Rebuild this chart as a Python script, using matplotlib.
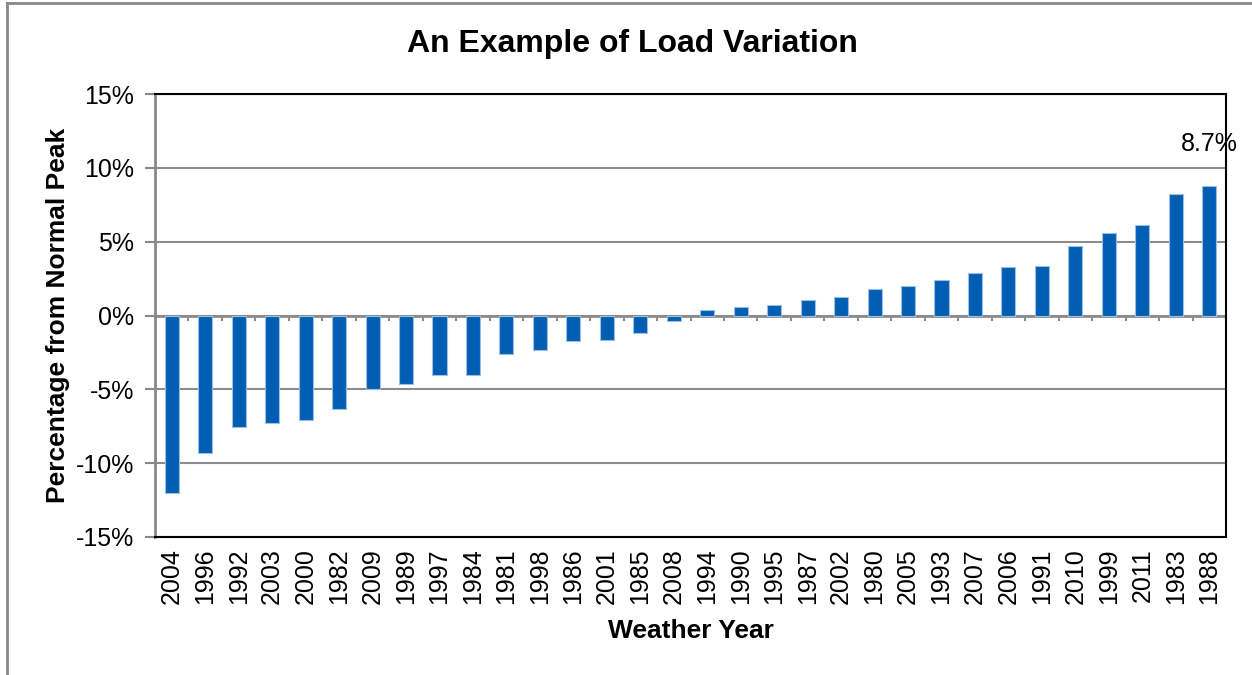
import numpy as np
import matplotlib.pyplot as plt
from matplotlib.lines import Line2D
from matplotlib.ticker import FuncFormatter

plt.rcParams["font.family"] = ["Liberation Sans", "DejaVu Sans"]

# ── data ──────────────────────────────────────────────────────────────
years = ["2004", "1996", "1992", "2003", "2000", "1982", "2009", "1989",
         "1997", "1984", "1981", "1998", "1986", "2001", "1985", "2008",
         "1994", "1990", "1995", "1987", "2002", "1980", "2005", "1993",
         "2007", "2006", "1991", "2010", "1999", "2011", "1983", "1988"]
pct = [-12.0, -9.3, -7.55, -7.3, -7.05, -6.3, -5.0, -4.65,
       -4.05, -4.0, -2.6, -2.35, -1.75, -1.65, -1.2, -0.35,
       0.35, 0.55, 0.7, 1.07, 1.27, 1.8, 2.0, 2.4,
       2.9, 3.3, 3.35, 4.7, 5.6, 6.15, 8.25, 8.75]
peak_label = "8.7%"

# ── figure ────────────────────────────────────────────────────────────
fig = plt.figure(figsize=(12.52, 6.75), dpi=100)
fig.patch.set_facecolor("white")
ax = fig.add_axes([155 / 1252, 1 - 537 / 675, (1226 - 155) / 1252, (537 - 94) / 675])

x = np.arange(len(years))
ax.bar(x, pct, width=0.42, color="#005FB3", edgecolor="#9DBDE3",
       linewidth=0.8, zorder=3)

ax.set_xlim(-0.5, len(years) - 0.5)
ax.set_ylim(-15, 15)
ax.set_yticks(np.arange(-15, 16, 5))
ax.yaxis.set_major_formatter(FuncFormatter(lambda v, p: f"{v:.0f}%"))
ax.set_xticks(x)
ax.set_xticklabels(years, rotation=90, fontsize=18)
ax.tick_params(axis="x", length=0, pad=8)
ax.tick_params(axis="y", labelsize=18, length=7, color="#888888", width=1.5, pad=8)

# gridlines and zero axis
ax.grid(True, axis="y", color="#8C8C8C", linewidth=1.5, zorder=1)
ax.axhline(0, color="#8C8C8C", linewidth=2, zorder=2)
ax.vlines(np.arange(len(years)) + 0.5, -0.35, 0, color="#8C8C8C",
          linewidth=1.5, zorder=2)

for s in ["top", "right", "bottom"]:
    ax.spines[s].set_color("black")
    ax.spines[s].set_linewidth(1.5)
ax.spines["left"].set_color("#888888")
ax.spines["left"].set_linewidth(2)

# peak annotation
ax.annotate(peak_label, xy=(x[-1], pct[-1]), xytext=(0, 22),
            textcoords="offset points", ha="center", va="bottom",
            fontsize=18, annotation_clip=False)

fig.text(632 / 1252, 1 - 44 / 675, "An Example of Load Variation",
         fontsize=23, fontweight="bold", ha="center", va="center")
ax.set_xlabel("Weather Year", fontsize=19, fontweight="bold", labelpad=11)
ax.set_ylabel("Percentage from Normal Peak", fontsize=19, fontweight="bold", labelpad=4)

# outer frame (left and top edges only)
fig.add_artist(Line2D([7 / 1252, 7 / 1252], [0, 1 - 3 / 675],
                      transform=fig.transFigure, color="#888888", linewidth=2))
fig.add_artist(Line2D([7 / 1252, 1], [1 - 3 / 675, 1 - 3 / 675],
                      transform=fig.transFigure, color="#888888", linewidth=2))

fig.savefig("out.png", dpi=100, facecolor="white")
